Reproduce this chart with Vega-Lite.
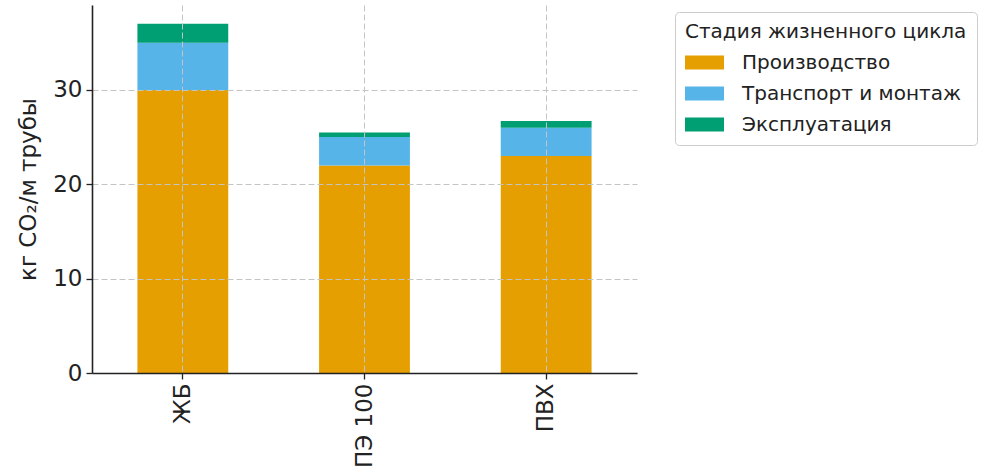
{
  "$schema": "https://vega.github.io/schema/vega-lite/v6.json",
  "autosize": {"type": "none"},
  "padding": {"left": 92, "top": 5, "right": 366, "bottom": 100},
  "width": 545,
  "height": 368,
  "background": "white",
  "config": {
    "font": "DejaVu Sans",
    "view": {"stroke": null}
  },
  "data": {
    "values": [
      {"material": "ЖБ", "stage": "Производство", "order": 1, "value": 30},
      {"material": "ЖБ", "stage": "Транспорт и монтаж", "order": 2, "value": 5},
      {"material": "ЖБ", "stage": "Эксплуатация", "order": 3, "value": 2},
      {"material": "ПЭ 100", "stage": "Производство", "order": 1, "value": 22},
      {"material": "ПЭ 100", "stage": "Транспорт и монтаж", "order": 2, "value": 3},
      {"material": "ПЭ 100", "stage": "Эксплуатация", "order": 3, "value": 0.5},
      {"material": "ПВХ", "stage": "Производство", "order": 1, "value": 23},
      {"material": "ПВХ", "stage": "Транспорт и монтаж", "order": 2, "value": 3},
      {"material": "ПВХ", "stage": "Эксплуатация", "order": 3, "value": 0.7}
    ]
  },
  "mark": {"type": "bar"},
  "encoding": {
    "x": {
      "field": "material",
      "type": "nominal",
      "sort": ["ЖБ", "ПЭ 100", "ПВХ"],
      "scale": {"paddingInner": 0.5, "paddingOuter": 0.25},
      "axis": {
        "title": null,
        "labelAngle": -90,
        "labelAlign": "right",
        "labelBaseline": "middle",
        "labelFontSize": 23,
        "labelColor": "#222",
        "labelPadding": 4,
        "labelLimit": 300,
        "domainColor": "#222",
        "domainWidth": 1.6,
        "tickColor": "#222",
        "tickWidth": 1.3,
        "tickSize": 6,
        "grid": true,
        "gridDash": [6, 3],
        "gridColor": "#c4c4c4",
        "gridWidth": 1,
        "zindex": 2
      }
    },
    "y": {
      "field": "value",
      "type": "quantitative",
      "stack": "zero",
      "scale": {"domain": [0, 39], "nice": false},
      "axis": {
        "title": "кг CO₂/м трубы",
        "titleFontSize": 23,
        "titleFontWeight": "normal",
        "titleColor": "#222",
        "titlePadding": 12,
        "values": [0, 10, 20, 30],
        "labelFontSize": 23,
        "labelColor": "#222",
        "labelPadding": 4,
        "domainColor": "#222",
        "domainWidth": 1.6,
        "tickColor": "#222",
        "tickWidth": 1.3,
        "tickSize": 6,
        "grid": true,
        "gridDash": [6, 3],
        "gridColor": "#c4c4c4",
        "gridWidth": 1,
        "zindex": 1
      }
    },
    "color": {
      "field": "stage",
      "type": "nominal",
      "sort": ["Производство", "Транспорт и монтаж", "Эксплуатация"],
      "scale": {
        "domain": ["Производство", "Транспорт и монтаж", "Эксплуатация"],
        "range": ["#E69F00", "#56B4E9", "#009E73"]
      },
      "legend": {
        "title": "Стадия жизненного цикла",
        "orient": "none",
        "legendX": 583,
        "legendY": 7,
        "titleFontSize": 20,
        "titleFontWeight": "normal",
        "titleColor": "#222",
        "titlePadding": 1,
        "titleLimit": 500,
        "labelFontSize": 20,
        "labelColor": "#222",
        "labelOffset": 18,
        "labelLimit": 500,
        "symbolType": "M-1,-0.36H1V0.36H-1Z",
        "symbolSize": 1521,
        "symbolStrokeWidth": 0,
        "symbolOpacity": 1,
        "rowPadding": 1,
        "padding": 10,
        "strokeColor": "#cccccc",
        "cornerRadius": 4,
        "fillColor": "white"
      }
    },
    "order": {"field": "order", "type": "quantitative"}
  }
}
